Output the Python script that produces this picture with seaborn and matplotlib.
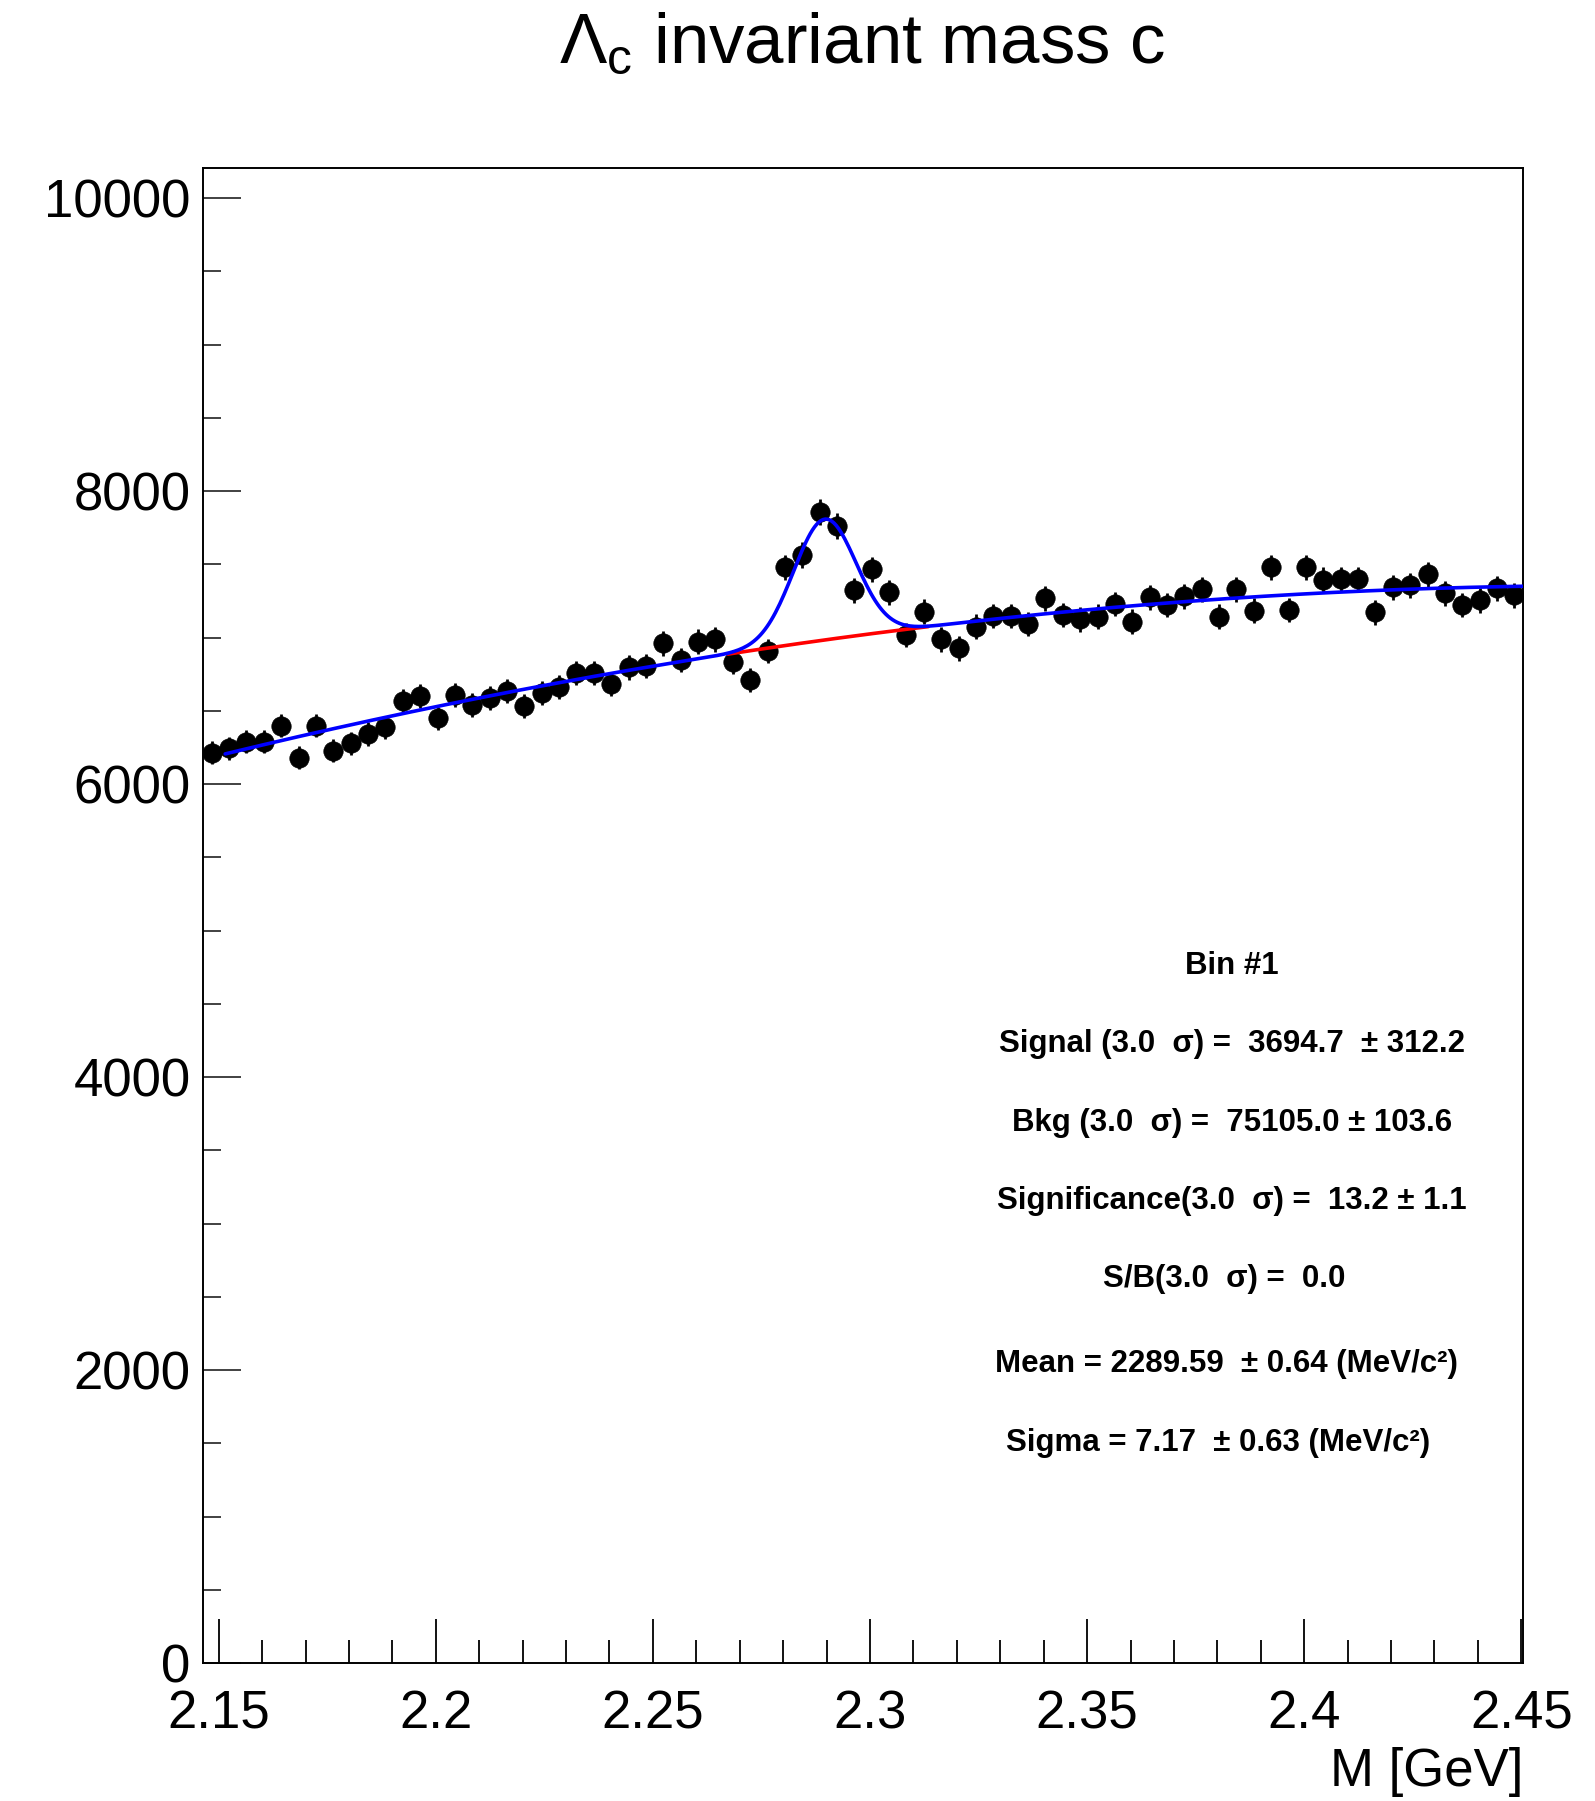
import numpy as np
import pandas as pd
import matplotlib
matplotlib.use("Agg")
import matplotlib.pyplot as plt
from matplotlib.ticker import MultipleLocator, FixedLocator, FixedFormatter
import seaborn as sns

# ---- histogram: Lambda_c candidate invariant mass (76 bins, 4 MeV wide) ----
bin_low_edge = 2.1464
bin_width = 0.004
counts = [
    6214, 6244, 6289, 6289, 6398, 6180, 6398, 6228, 6278, 6341,
    6387, 6569, 6603, 6448, 6607, 6539, 6585, 6637, 6532, 6619,
    6664, 6760, 6755, 6683, 6796, 6805, 6960, 6846, 6972, 6988,
    6835, 6710, 6908, 7479, 7563, 7855, 7763, 7324, 7465, 7308,
    7017, 7176, 6988, 6926, 7074, 7147, 7147, 7092, 7268, 7154,
    7124, 7142, 7229, 7108, 7274, 7222, 7283, 7329, 7142, 7329,
    7183, 7479, 7188, 7479, 7393, 7397, 7397, 7172, 7343, 7358,
    7431, 7302, 7222, 7256, 7336, 7290,
]

# ---- fit results ----
fit_mean = 2.28959          # GeV  (2289.59 MeV/c^2)
fit_sigma = 0.00717         # GeV  (7.17 MeV/c^2)
signal_3sigma = 3694.7      # signal yield inside +-3 sigma
bkg_pivot = 2.30
bkg_poly = [-11220.0, 3850.0, 7025.0]   # quadratic background around the pivot
fit_range = (2.1515, 2.4504)
bkg_only_range = (2.2673, 2.3134)

stats_lines = [
    "Bin #1",
    "Signal (3.0  σ) =  3694.7  ± 312.2",
    "Bkg (3.0  σ) =  75105.0 ± 103.6",
    "Significance(3.0  σ) =  13.2 ± 1.1",
    "S/B(3.0  σ) =  0.0",
    "Mean = 2289.59  ± 0.64 (MeV/c²)",
    "Sigma = 7.17  ± 0.63 (MeV/c²)",
]
stats_x = [0.7795, 0.7795, 0.7795, 0.7795, 0.7735, 0.775, 0.769]
stats_y = [0.466, 0.414, 0.361, 0.309, 0.257, 0.200, 0.147]

x_ticks = [2.15, 2.20, 2.25, 2.30, 2.35, 2.40, 2.45]
x_tick_labels = ["2.15", "2.2", "2.25", "2.3", "2.35", "2.4", "2.45"]
y_ticks = [0, 2000, 4000, 6000, 8000, 10000]
y_tick_labels = ["0", "2000", "4000", "6000", "8000", "10000"]

# ---- derived quantities ----
counts = np.asarray(counts, dtype=float)
centers = bin_low_edge + bin_width * (np.arange(len(counts)) + 0.5)
errors = np.sqrt(counts)
hist = pd.DataFrame({"mass": centers, "entries": counts})

amp = (signal_3sigma / 0.9973) * bin_width / (np.sqrt(2 * np.pi) * fit_sigma)


def background(x):
    return np.polyval(bkg_poly, x - bkg_pivot)


def total(x):
    return background(x) + amp * np.exp(-0.5 * ((x - fit_mean) / fit_sigma) ** 2)


xs = np.linspace(*fit_range, 600)
xb = np.linspace(*bkg_only_range, 200)
curve_total = pd.DataFrame({"mass": xs, "entries": total(xs)})
curve_bkg = pd.DataFrame({"mass": xb, "entries": background(xb)})

# ---- style ----
sns.set_theme(style="white")
plt.rcParams["font.family"] = ["Liberation Sans", "DejaVu Sans"]
plt.rcParams["mathtext.fontset"] = "custom"
plt.rcParams["mathtext.rm"] = "Liberation Sans"
plt.rcParams["mathtext.it"] = "Liberation Sans:italic"
plt.rcParams["mathtext.bf"] = "Liberation Sans:bold"
plt.rcParams["text.color"] = "black"
plt.rcParams["axes.labelcolor"] = "black"
plt.rcParams["xtick.color"] = "black"
plt.rcParams["ytick.color"] = "black"

fig = plt.figure(figsize=(15.95, 18.01), dpi=100, facecolor="white")
ax = fig.add_axes([0.1273, 0.0766, 0.9549 - 0.1273, 0.9067 - 0.0766])
ax.set_facecolor("white")

ax.errorbar(hist["mass"], hist["entries"], yerr=errors, fmt="none",
            ecolor="black", elinewidth=2.0, capsize=0, zorder=3)
sns.scatterplot(data=hist, x="mass", y="entries", ax=ax, color="black",
                s=195, edgecolor="black", linewidth=0.5, zorder=4, legend=False)
sns.lineplot(data=curve_bkg, x="mass", y="entries", ax=ax, color="#ff0000",
             linewidth=2.6, zorder=5, legend=False)
sns.lineplot(data=curve_total, x="mass", y="entries", ax=ax, color="#0000ff",
             linewidth=2.6, zorder=6, legend=False)

ax.set_xlim(bin_low_edge, 2.4504)
ax.set_ylim(0, 10205)

ax.xaxis.set_major_locator(FixedLocator(x_ticks))
ax.xaxis.set_major_formatter(FixedFormatter(x_tick_labels))
ax.xaxis.set_minor_locator(MultipleLocator(0.01))
ax.yaxis.set_major_locator(FixedLocator(y_ticks))
ax.yaxis.set_major_formatter(FixedFormatter(y_tick_labels))
ax.yaxis.set_minor_locator(MultipleLocator(500))

ax.tick_params(axis="x", which="both", direction="in", bottom=True, top=False,
               labelsize=38, pad=19, width=1.3, color="black")
ax.tick_params(axis="x", which="major", length=32)
ax.tick_params(axis="x", which="minor", length=16.5)
ax.tick_params(axis="y", which="both", direction="in", left=True, right=False,
               labelsize=38, pad=9, width=1.3, color="#333333")
ax.tick_params(axis="y", which="major", length=27)
ax.tick_params(axis="y", which="minor", length=13)

for sp in ax.spines.values():
    sp.set_visible(True)
    sp.set_color("black")
    sp.set_linewidth(1.4)

ax.set_xlabel("M [GeV]", fontsize=38, loc="right")
ax.xaxis.set_label_coords(1.0, -0.056)
ax.set_ylabel("")

fig.text(0.5405, 0.965, r"Λ$_\mathrm{c}$ invariant mass c", fontsize=51,
         ha="center", va="baseline")

for txt, tx, ty in zip(stats_lines, stats_x, stats_y):
    ax.text(tx, ty, txt, transform=ax.transAxes, fontsize=22.5,
            fontweight="bold", ha="center", va="center", color="black")

fig.savefig("out.png", dpi=100, facecolor="white")
